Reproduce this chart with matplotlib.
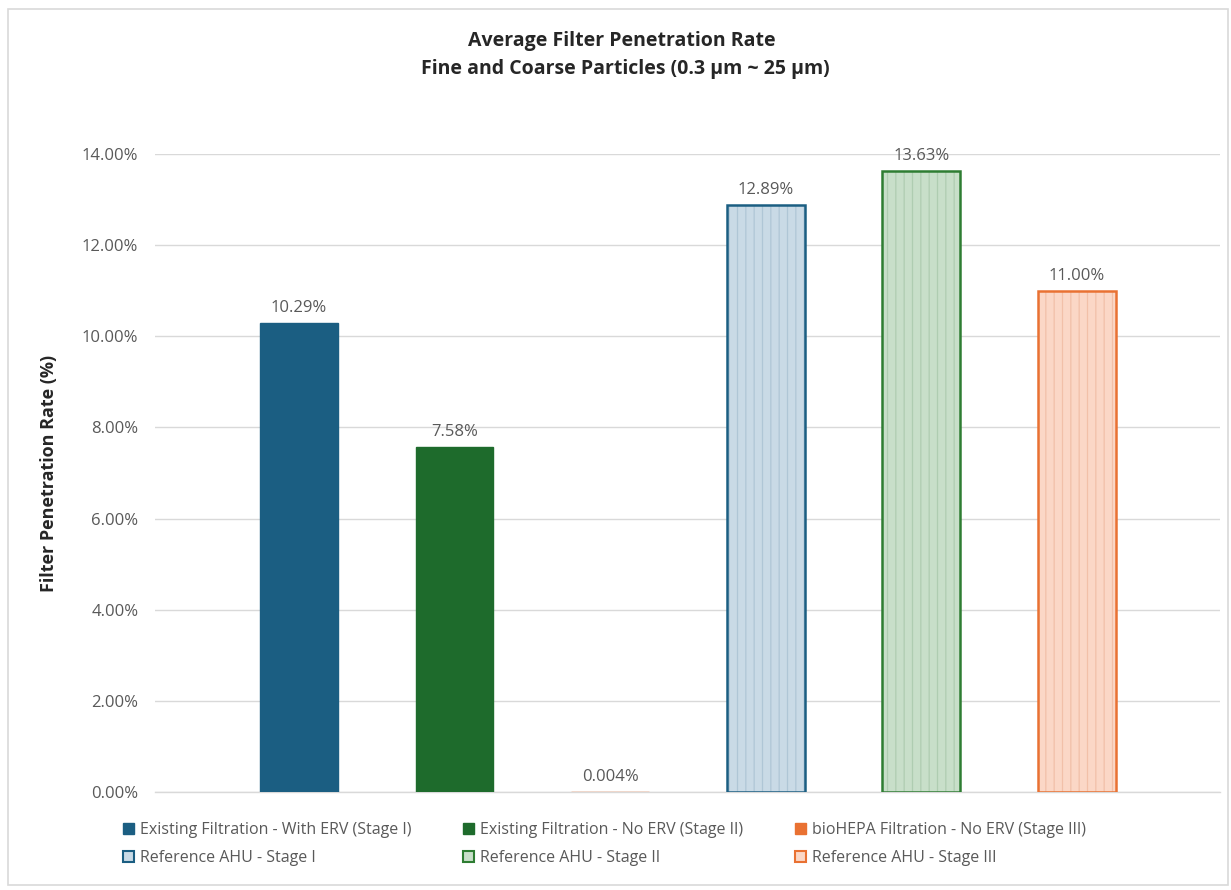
import numpy as np
import matplotlib
matplotlib.use("Agg")
import matplotlib.pyplot as plt
from matplotlib.patches import Rectangle, Patch
from matplotlib.ticker import FuncFormatter

# Series shown as individual bars
series_names = [
    "Existing Filtration - With ERV (Stage I)",
    "Existing Filtration - No ERV (Stage II)",
    "bioHEPA Filtration - No ERV (Stage III)",
    "Reference AHU - Stage I",
    "Reference AHU - Stage II",
    "Reference AHU - Stage III",
]
penetration = [0.1029, 0.0758, 0.00004, 0.1289, 0.1363, 0.1100]
y_ticks = [0.0, 0.02, 0.04, 0.06, 0.08, 0.10, 0.12, 0.14]

edge_colors = ["#1B5E82", "#1E6B2C", "#E97132", "#1B5E82", "#2E7D32", "#E97132"]
fill_colors = ["#1B5E82", "#1E6B2C", "#E97132", "#C9DAE6", "#C8DFC9", "#FBD7C6"]
hatch_colors = [None, None, None, "#AFC6D6", "#AFCDB1", "#F2C0A8"]
is_reference = [False, False, False, True, True, True]

plt.rcParams["font.family"] = ["Open Sans", "DejaVu Sans"]
plt.rcParams["hatch.linewidth"] = 0.9

fig = plt.figure(figsize=(12.31, 8.90), dpi=100)
fig.patch.set_facecolor("white")

# Light chart-area frame
fig.add_artist(Rectangle((8 / 1231, 5 / 890), 1220 / 1231, 876 / 890,
                         transform=fig.transFigure, fill=False,
                         edgecolor="#D9D9D9", linewidth=1.2))

ax = fig.add_axes([155 / 1231, 98 / 890, 1065 / 1231, 638 / 890])
x = np.arange(len(penetration))
width = 0.5

handles = []
for i, v in enumerate(penetration):
    if is_reference[i]:
        ax.bar(x[i], v, width, color=fill_colors[i], edgecolor=hatch_colors[i],
               hatch="||", linewidth=0, zorder=2)
        ax.bar(x[i], v, width, fill=False, edgecolor=edge_colors[i],
               linewidth=1.8, zorder=3)
        handles.append(Patch(facecolor=fill_colors[i], edgecolor=edge_colors[i],
                             linewidth=1.5, label=series_names[i]))
    else:
        ax.bar(x[i], v, width, color=fill_colors[i], edgecolor=edge_colors[i],
               linewidth=1.0, zorder=3)
        handles.append(Patch(facecolor=fill_colors[i], edgecolor=edge_colors[i],
                             label=series_names[i]))
    pct = v * 100
    label = f"{pct:.2f}%" if pct >= 0.01 else f"{pct:.3f}%"
    ax.annotate(label, (x[i], v), xytext=(0, 5), textcoords="offset points",
                ha="center", va="bottom", fontsize=12, color="#595959",
                annotation_clip=False)

ax.set_xlim(-0.925, 5.92)
ax.set_ylim(0, 0.14)
ax.set_yticks(y_ticks)
ax.yaxis.set_major_formatter(FuncFormatter(lambda v, _: f"{v * 100:.2f}%"))
ax.set_xticks([])
ax.tick_params(axis="y", length=0, labelsize=12, labelcolor="#595959", pad=12)
ax.grid(axis="y", color="#D9D9D9", linewidth=1.0, zorder=0)
ax.set_axisbelow(True)
for side in ["top", "right", "left"]:
    ax.spines[side].set_visible(False)
ax.spines["bottom"].set_color("#D9D9D9")
ax.spines["bottom"].set_linewidth(1.0)

ax.set_ylabel("Filter Penetration Rate (%)", fontsize=13, fontweight="bold",
              color="#262626")
ax.yaxis.set_label_coords(-0.091, 0.5)

fig.text(0.505, 0.954, "Average Filter Penetration Rate", ha="center", va="center",
         fontsize=14, fontweight="bold", color="#262626")
fig.text(0.508, 0.922, "Fine and Coarse Particles (0.3 \u00b5m ~ 25 \u00b5m)", ha="center",
         va="center", fontsize=14, fontweight="bold", color="#262626")

# Row-wise legend order for three columns
order = [0, 3, 1, 4, 2, 5]
fig.legend([handles[k] for k in order], [series_names[k] for k in order],
           loc="center", bbox_to_anchor=(0.491, 0.052), ncol=3, frameon=False,
           fontsize=11.5, labelcolor="#595959", handlelength=0.7, handleheight=0.7,
           handletextpad=0.4, columnspacing=3.2, labelspacing=0.75)

fig.savefig("out.png", dpi=100)
